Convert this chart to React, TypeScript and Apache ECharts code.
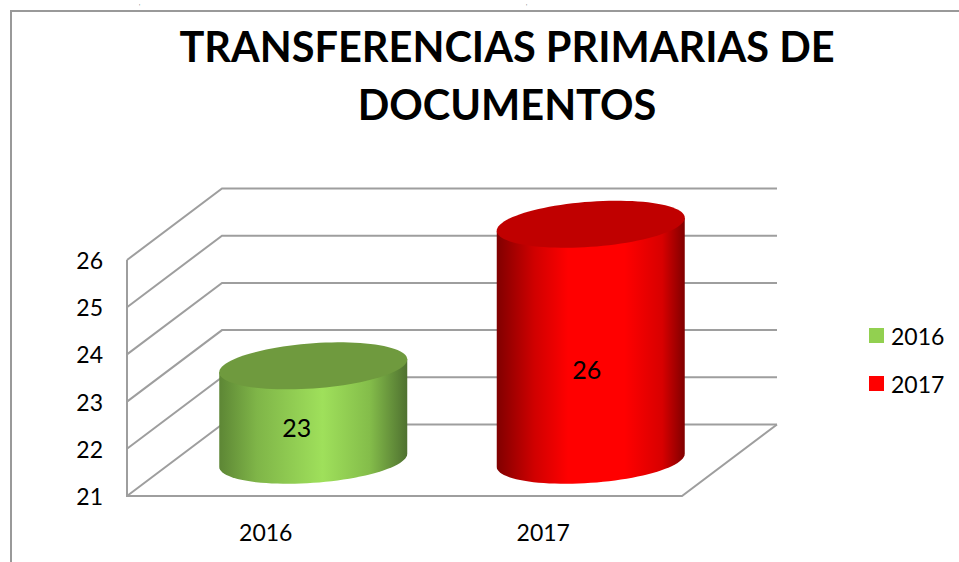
import React, { useEffect, useRef } from "react";
import * as echarts from "echarts";

const categories = ["2016", "2017"];
const values2016 = [23];
const values2017 = [26];
const yTicks = [21, 22, 23, 24, 25, 26];
const titleText = "TRANSFERENCIAS PRIMARIAS DE\nDOCUMENTOS";

const FONT = "Lato, 'Open Sans', sans-serif";
const GRID_COLOR = "#9e9e9e";
const DEPTH_X = 95;
const DEPTH_Y = 71.5;
const RX = 94;
const TILT = 6.5;
const RY = 22.6;

const ellipsePoint = (cx: number, cy: number, t: number) => [
  cx + RX * Math.cos(t),
  cy - TILT * Math.cos(t) + RY * Math.sin(t),
];

const fullEllipse = (cx: number, cy: number) => {
  const pts: number[][] = [];
  for (let i = 0; i < 96; i++) pts.push(ellipsePoint(cx, cy, (i / 96) * Math.PI * 2));
  return pts;
};

const cylinderBody = (cx: number, top: number, bottom: number) => {
  const pts: number[][] = [ellipsePoint(cx, top, Math.PI), ellipsePoint(cx, top, 0)];
  for (let i = 0; i <= 48; i++) pts.push(ellipsePoint(cx, bottom, (i / 48) * Math.PI));
  return pts;
};

const cylinderRender =
  (stops: { offset: number; color: string }[], topColor: string, nudgeX: number, nudgeY: number) =>
  (_params: any, api: any) => {
    const cat = api.value(0);
    const val = api.value(1);
    const [fx, fy] = api.coord([cat, val]);
    const [, by] = api.coord([cat, 21]);
    const cx = fx + DEPTH_X / 2;
    const topY = fy - DEPTH_Y / 2;
    const botY = by - DEPTH_Y / 2;
    return {
      type: "group",
      children: [
        {
          type: "polygon",
          shape: { points: cylinderBody(cx, topY, botY) },
          style: {
            fill: { type: "linear", x: 0, y: 0, x2: 1, y2: 0, colorStops: stops },
          },
        },
        {
          type: "polygon",
          shape: { points: fullEllipse(cx, topY) },
          style: { fill: topColor },
        },
        {
          type: "text",
          x: cx + nudgeX,
          y: (topY + botY) / 2 + nudgeY,
          style: {
            text: String(val),
            fill: "#000",
            font: `25px ${FONT}`,
            align: "center",
            verticalAlign: "middle",
          },
        },
      ],
    };
  };

const wallsRender = (params: any, api: any) => {
  const cs = params.coordSys;
  const left = cs.x;
  const right = cs.x + cs.width;
  const [, y] = api.coord([0, api.value(1)]);
  const stroke = { stroke: GRID_COLOR, lineWidth: 2, fill: "none" };
  const children: any[] = [
    {
      type: "polyline",
      shape: {
        points: [
          [left, y],
          [left + DEPTH_X, y - DEPTH_Y],
          [right + DEPTH_X, y - DEPTH_Y],
        ],
      },
      style: stroke,
    },
  ];
  if (params.dataIndex === 0) {
    children.push({
      type: "polyline",
      shape: {
        points: [
          [left, cs.y],
          [left, y],
          [right, y],
          [right + DEPTH_X, y - DEPTH_Y],
        ],
      },
      style: stroke,
    });
  }
  return { type: "group", children };
};

export default function App() {
  const ref = useRef<HTMLDivElement>(null);
  useEffect(() => {
    document.body.style.margin = "0";
    const chart = echarts.init(ref.current!, undefined, { renderer: "svg" });
    chart.setOption({
      animation: false,
      backgroundColor: "#fff",
      title: {
        text: titleText,
        left: 502,
        top: 12,
        textAlign: "center",
        textStyle: {
          fontFamily: FONT,
          fontWeight: "bold",
          fontSize: 41.5,
          lineHeight: 58,
          color: "#000",
        },
      },
      grid: { left: 127, top: 260, width: 555, height: 236 },
      legend: {
        orient: "vertical",
        left: 864,
        top: 319,
        itemWidth: 15,
        itemHeight: 15,
        itemGap: 25,
        data: categories,
        textStyle: { fontFamily: FONT, fontSize: 23, color: "#000", padding: [0, 0, 0, 2] },
        icon: "rect",
      },
      xAxis: {
        type: "category",
        data: categories,
        axisLine: { show: false },
        axisTick: { show: false },
        axisLabel: { fontFamily: FONT, fontSize: 23, color: "#000", margin: 24 },
      },
      yAxis: {
        type: "value",
        min: yTicks[0],
        max: yTicks[yTicks.length - 1],
        interval: 1,
        axisLine: { show: false },
        axisTick: { show: false },
        splitLine: { show: false },
        axisLabel: { fontFamily: FONT, fontSize: 23, color: "#000", margin: 24 },
      },
      graphic: [
        {
          type: "polyline",
          shape: { points: [[11, 562], [11, 11], [959, 11]] },
          style: { stroke: "#999", lineWidth: 2, fill: "none" },
        },
        { type: "text", x: 139, y: 0, style: { text: ",", fill: "#333", font: `5px ${FONT}` } },
        { type: "text", x: 526, y: 0, style: { text: ",", fill: "#333", font: `5px ${FONT}` } },
      ],
      series: [
        {
          type: "custom",
          name: "walls",
          z: 1,
          renderItem: wallsRender,
          data: yTicks.map((v) => [0, v]),
          silent: true,
        },
        {
          type: "custom",
          name: categories[0],
          z: 2,
          itemStyle: { color: "#92d050" },
          renderItem: cylinderRender(
            [
              { offset: 0, color: "#5d8635" },
              { offset: 0.2, color: "#7fb548" },
              { offset: 0.55, color: "#9fe05b" },
              { offset: 0.8, color: "#84bd4a" },
              { offset: 1, color: "#4f7130" },
            ],
            "#6f9a3e",
            -16.5,
            14
          ),
          data: values2016.map((v) => [0, v]),
        },
        {
          type: "custom",
          name: categories[1],
          z: 2,
          itemStyle: { color: "#ff0000" },
          renderItem: cylinderRender(
            [
              { offset: 0, color: "#800000" },
              { offset: 0.2, color: "#d00000" },
              { offset: 0.38, color: "#ff0000" },
              { offset: 0.68, color: "#ff0000" },
              { offset: 0.88, color: "#d80000" },
              { offset: 1, color: "#800000" },
            ],
            "#c00000",
            -4,
            27
          ),
          data: values2017.map((v) => [1, v]),
        },
      ],
    });
    return () => chart.dispose();
  }, []);
  return <div ref={ref} style={{ width: 959, height: 562 }} />;
}
